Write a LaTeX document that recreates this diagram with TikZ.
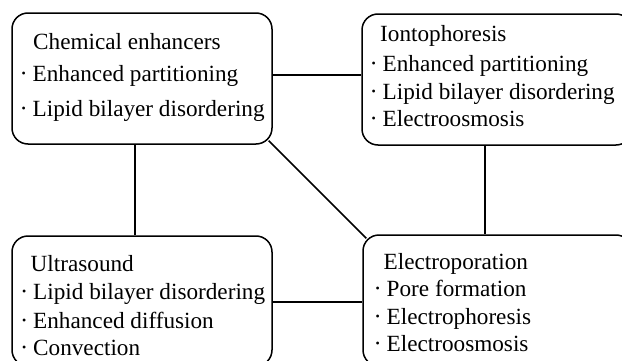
\documentclass[tikz,border=0pt]{standalone}
\usepackage{fontspec}
\setmainfont{Liberation Serif}
\begin{document}
\begin{tikzpicture}[x=1pt,y=1pt,
  box/.style={draw, line width=1.5pt, rounded corners=16pt, inner sep=0pt, fill=white},
  conn/.style={line width=1.5pt},
  txt/.style={anchor=base west, inner sep=0pt, font=\fontsize{23.2}{28}\selectfont},
]
\newcommand{\bul}{\llap{\raisebox{4pt}{\fontsize{12}{12}\selectfont •}\hspace{6.9pt}}}
\path[use as bounding box, clip] (0,0) rectangle (622,360);
\fill[white] (0,0) rectangle (622,360);
% helper coordinates for connector positions
\coordinate (yh1) at (0,285);
\coordinate (yh2) at (0,58);
\coordinate (xv1) at (135,0);
\coordinate (xv2) at (485,0);
% boxes
\node[box, minimum width=260pt, minimum height=131pt] (b1) at (142,281.5) {};
\node[box, minimum width=270pt, minimum height=131pt] (b2) at (497,280.5) {};
\node[box, minimum width=260pt, minimum height=130pt] (b3) at (142,59) {};
\node[box, minimum width=269pt, minimum height=131pt] (b4) at (497.5,59.5) {};
% connectors
\draw[conn] (b1.east |- yh1) -- (b2.west |- yh1);
\draw[conn] (b1.south -| xv1) -- (b3.north -| xv1);
\draw[conn] (b2.south -| xv2) -- (b4.north -| xv2);
\draw[conn] (b3.east |- yh2) -- (b4.west |- yh2);
\draw[conn, shorten <=-5.8pt, shorten >=-5.8pt] (b1.south east) -- (b4.north west);
% box 1 text
\node[txt] (t11) at (33,310.7) {Chemical enhancers};
\node[txt] (t12) at (32.5,278.3) {\bul Enhanced partitioning};
\node[txt] (t13) at (32.5,243.3) {\bul Lipid bilayer disordering};
% box 2 text
\node[txt] (t21) at (380,318.3) {Iontophoresis};
\node[txt] (t22) at (382.5,289) {\bul Enhanced partitioning};
\node[txt] (t23) at (382.5,260.7) {\bul Lipid bilayer disordering};
\node[txt] (t24) at (382.5,233.3) {\bul Electroosmosis};
% box 3 text
\node[txt] (t31) at (30.5,89) {Ultrasound};
\node[txt] (t32) at (33,61) {\bul Lipid bilayer disordering};
\node[txt] (t33) at (33,32) {\bul Enhanced diffusion};
\node[txt] (t34) at (33,5) {\bul Convection};
% box 4 text
\node[txt] (t41) at (383.5,90.7) {Electroporation};
\node[txt] (t42) at (386.5,63.3) {\bul Pore formation};
\node[txt] (t43) at (386.5,36) {\bul Electrophoresis};
\node[txt] (t44) at (386.5,8.3) {\bul Electroosmosis};
\end{tikzpicture}
\end{document}
